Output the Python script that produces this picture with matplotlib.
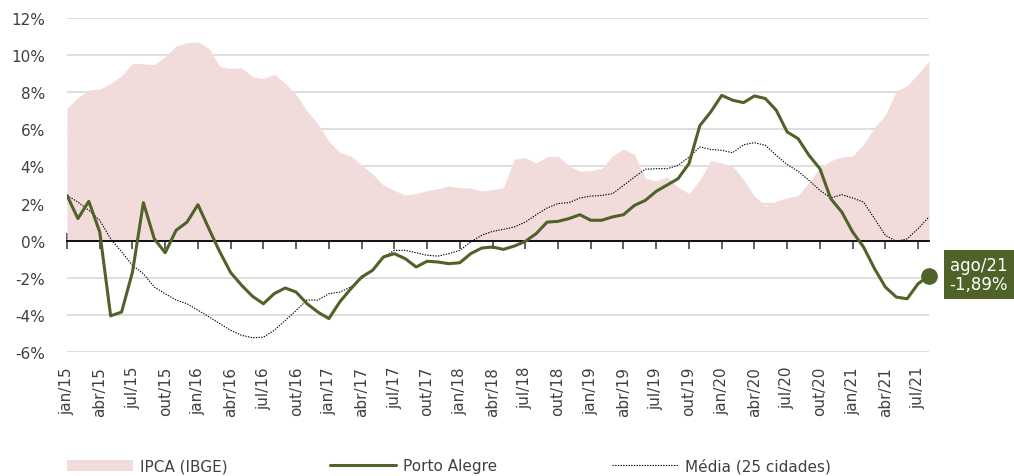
import numpy as np
import matplotlib.pyplot as plt
from matplotlib.ticker import FixedLocator

plt.rcParams['font.family'] = ['DejaVu Sans']

# months jan/15 .. ago/21
months = np.arange(80)

# IPCA 12-month accumulated (%)
ipca = [7.14, 7.70, 8.13, 8.17, 8.47, 8.89, 9.56, 9.53, 9.49, 9.93, 10.48, 10.67,
        10.71, 10.36, 9.39, 9.28, 9.32, 8.84, 8.74, 8.97, 8.48, 7.87, 6.99, 6.29,
        5.35, 4.76, 4.57, 4.08, 3.60, 3.00, 2.71, 2.46, 2.54, 2.70, 2.80, 2.95,
        2.86, 2.84, 2.68, 2.76, 2.86, 4.39, 4.48, 4.19, 4.53, 4.56, 4.05, 3.75,
        3.78, 3.89, 4.58, 4.94, 4.66, 3.37, 3.22, 3.43, 2.89, 2.54, 3.27, 4.31,
        4.19, 4.01, 3.30, 2.40, 1.88, 2.13, 2.31, 2.44, 3.14, 3.92, 4.31, 4.52,
        4.56, 5.20, 6.10, 6.76, 8.06, 8.35, 8.99, 9.68]

porto_alegre = [2.44, 1.19, 2.12, 0.47, -4.05, -3.85, -1.70, 2.05, 0.10, -0.65, 0.56, 1.00,
                1.94, 0.65, -0.60, -1.72, -2.40, -3.00, -3.40, -2.85, -2.55, -2.77, -3.40, -3.85,
                -4.20, -3.30, -2.60, -1.96, -1.60, -0.88, -0.70, -0.97, -1.42, -1.11, -1.15, -1.24,
                -1.19, -0.70, -0.40, -0.34, -0.47, -0.29, -0.04, 0.38, 1.00, 1.04, 1.19, 1.40,
                1.10, 1.10, 1.28, 1.40, 1.90, 2.17, 2.66, 3.00, 3.34, 4.15, 6.20, 6.94,
                7.83, 7.57, 7.44, 7.80, 7.66, 7.03, 5.86, 5.50, 4.60, 3.88, 2.26, 1.55,
                0.47, -0.34, -1.50, -2.50, -3.04, -3.13, -2.32, -1.89]

media = [2.44, 2.08, 1.64, 1.10, 0.10, -0.60, -1.33, -1.78, -2.50, -2.86, -3.20, -3.40,
         -3.75, -4.10, -4.47, -4.83, -5.10, -5.23, -5.20, -4.83, -4.30, -3.76, -3.20, -3.20,
         -2.86, -2.77, -2.50, -2.05, -1.60, -0.88, -0.52, -0.52, -0.65, -0.79, -0.83, -0.70,
         -0.52, -0.07, 0.29, 0.50, 0.61, 0.74, 1.00, 1.40, 1.76, 2.00, 2.05, 2.30,
         2.40, 2.44, 2.53, 2.98, 3.43, 3.85, 3.88, 3.88, 4.06, 4.50, 5.05, 4.92,
         4.87, 4.74, 5.17, 5.28, 5.14, 4.60, 4.10, 3.74, 3.25, 2.71, 2.30, 2.48,
         2.30, 2.08, 1.19, 0.29, -0.04, 0.10, 0.65, 1.28]

years = ['15', '16', '17', '18', '19', '20', '21']
quarters = ['jan', 'abr', 'jul', 'out']
tick_labels = [f'{q}/{y}' for y in years for q in quarters][:27]
y_ticks = [-6, -4, -2, 0, 2, 4, 6, 8, 10, 12]
y_labels = ['-6%', '-4%', '-2%', '0%', '2%', '4%', '6%', '8%', '10%', '12%']
last_label = 'ago/21\n-1,89%'

green = '#4f6228'
pink = '#f2dcdb'
txt = '#404040'

fig = plt.figure(figsize=(10.14, 4.77), dpi=100)
ax = fig.add_axes([67 / 1014, 1 - 353 / 477, (929 - 67) / 1014, (353 - 19) / 477])

area = ax.fill_between(months, 0, ipca, color=pink, lw=0, label='IPCA (IBGE)', zorder=1)
pa_line, = ax.plot(months, porto_alegre, color=green, lw=2.2, label='Porto Alegre', zorder=4,
                   solid_joinstyle='round', solid_capstyle='round')
md_line, = ax.plot(months, media, color='black', lw=0.8, ls=(0, (1.2, 1.2)),
                   label='Média (25 cidades)', zorder=3)
ax.plot(months[-1], porto_alegre[-1], 'o', color=green, ms=11, zorder=5, clip_on=False)

ax.set_xlim(0, 79)
ax.set_ylim(-6, 12)
ax.set_yticks(y_ticks)
ax.set_yticklabels(y_labels)
ax.grid(axis='y', color='#d9d9d9', lw=1.2)
ax.set_axisbelow(True)

for s in ['top', 'right', 'left']:
    ax.spines[s].set_visible(False)
ax.spines['bottom'].set_position(('data', 0))
ax.spines['bottom'].set_color('black')
ax.spines['bottom'].set_linewidth(1.3)
ax.spines['bottom'].set_zorder(3)
ax.xaxis.set_major_locator(FixedLocator(range(0, 80, 3)))
ax.tick_params(axis='x', direction='inout', length=11, width=1.1, color='#333333', labelbottom=False)
ax.tick_params(axis='y', length=0, pad=16, labelsize=11, labelcolor=txt)

sec = ax.secondary_xaxis(0)
sec.set_xticks(range(0, 80, 3))
sec.set_xticklabels(tick_labels, rotation=90)
sec.tick_params(length=0, pad=10, labelsize=11, labelcolor=txt)
sec.spines['bottom'].set_visible(False)

ax.annotate(last_label, xy=(months[-1], porto_alegre[-1]), xytext=(36, 1),
            textcoords='offset points', ha='center', va='center', color='white',
            fontsize=12, linespacing=1.1, annotation_clip=False,
            bbox=dict(boxstyle='square,pad=0.35', fc=green, ec='none'))

# legend entries placed individually along the bottom
for handle, x0 in [(area, 67), (pa_line, 330), (md_line, 612)]:
    fig.legend(handles=[handle], loc='center left', bbox_to_anchor=(x0 / 1014, 1 - 467 / 477),
               frameon=False, fontsize=11, handlelength=4.3, handletextpad=0.5,
               borderpad=0, borderaxespad=0, labelcolor=txt)

fig.savefig('out.png', dpi=100)
